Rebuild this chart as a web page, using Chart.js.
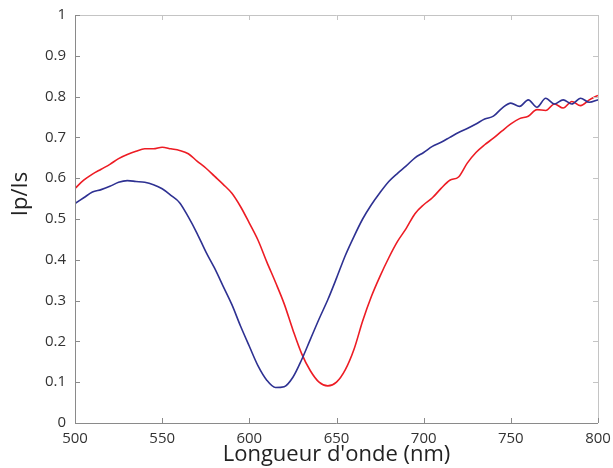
<!DOCTYPE html>
<html>
<head>
<meta charset="utf-8">
<script src="https://cdn.jsdelivr.net/npm/chart.js@4/dist/chart.umd.min.js"></script>
<style>
  html, body { margin: 0; padding: 0; background: #fff; }
  #wrap { width: 613px; height: 468px; }
</style>
</head>
<body>
<div id="wrap"><canvas id="chart" width="613" height="468"></canvas></div>
<script>
// wavelength grid (nm)
const wavelengths = [
  500, 505, 510, 515, 520, 525, 530, 535, 540, 545,
  550, 555, 560, 565, 570, 575, 580, 585, 590, 595,
  600, 605, 610, 615, 620, 625, 630, 635, 640, 645,
  650, 655, 660, 665, 670, 675, 680, 685, 690, 695,
  700, 705, 710, 715, 720, 725, 730, 735, 740, 745,
  750, 755, 760, 765, 770, 775, 780, 785, 790, 795, 800
];

// blue curve
const blueValues = [
  0.538, 0.552, 0.566, 0.572, 0.580, 0.590, 0.594, 0.592, 0.590, 0.584,
  0.574, 0.558, 0.540, 0.505, 0.465, 0.420, 0.380, 0.335, 0.290, 0.237,
  0.188, 0.140, 0.105, 0.087, 0.089, 0.112, 0.155, 0.205, 0.255, 0.302,
  0.355, 0.410, 0.457, 0.500, 0.535, 0.565, 0.592, 0.612, 0.630, 0.650,
  0.663, 0.678, 0.688, 0.700, 0.712, 0.722, 0.733, 0.745, 0.752, 0.772,
  0.784, 0.776, 0.792, 0.774, 0.796, 0.782, 0.792, 0.782, 0.796, 0.786, 0.792
];

// red curve
const redValues = [
  0.575, 0.595, 0.610, 0.622, 0.634, 0.648, 0.658, 0.666, 0.672, 0.672,
  0.676, 0.672, 0.668, 0.660, 0.642, 0.625, 0.605, 0.585, 0.563, 0.530,
  0.490, 0.448, 0.395, 0.345, 0.292, 0.228, 0.170, 0.128, 0.100, 0.091,
  0.100, 0.130, 0.180, 0.250, 0.310, 0.360, 0.405, 0.445, 0.477, 0.513,
  0.535, 0.552, 0.575, 0.595, 0.603, 0.637, 0.663, 0.682, 0.698, 0.716,
  0.733, 0.746, 0.752, 0.768, 0.766, 0.782, 0.772, 0.788, 0.778, 0.792, 0.803
];

const xTicks = [500, 550, 600, 650, 700, 750, 800];
const yTicks = [0, 0.1, 0.2, 0.3, 0.4, 0.5, 0.6, 0.7, 0.8, 0.9, 1];

const toPoints = (vals) => vals.map((v, i) => ({ x: wavelengths[i], y: v }));

// frame with inward ticks + axis titles
const framePlugin = {
    id: 'frame',
    afterDraw(chart) {
        const { ctx, chartArea: a, scales } = chart;
        const len = 5;
        ctx.save();
        ctx.lineWidth = 1;

        // top and right, light gray
        ctx.strokeStyle = '#c4c4c4';
        ctx.beginPath();
        ctx.moveTo(a.left, a.top + 0.5);
        ctx.lineTo(a.right + 0.5, a.top + 0.5);
        ctx.lineTo(a.right + 0.5, a.bottom);
        xTicks.forEach(v => {
            const px = Math.round(scales.x.getPixelForValue(v)) + 0.5;
            ctx.moveTo(px, a.top);
            ctx.lineTo(px, a.top + len);
        });
        yTicks.forEach(v => {
            const py = Math.round(scales.y.getPixelForValue(v)) + 0.5;
            ctx.moveTo(a.right, py);
            ctx.lineTo(a.right - len, py);
        });
        ctx.stroke();

        // left and bottom, darker gray
        ctx.strokeStyle = '#8a8a8a';
        ctx.beginPath();
        ctx.moveTo(a.left + 0.5, a.top);
        ctx.lineTo(a.left + 0.5, a.bottom + 0.5);
        ctx.lineTo(a.right, a.bottom + 0.5);
        xTicks.forEach(v => {
            const px = Math.round(scales.x.getPixelForValue(v)) + 0.5;
            ctx.moveTo(px, a.bottom);
            ctx.lineTo(px, a.bottom - len);
        });
        yTicks.forEach(v => {
            const py = Math.round(scales.y.getPixelForValue(v)) + 0.5;
            ctx.moveTo(a.left, py);
            ctx.lineTo(a.left + len, py);
        });
        ctx.stroke();

        // axis titles
        ctx.fillStyle = '#222';
        ctx.font = '22px "Open Sans", sans-serif';
        ctx.textAlign = 'center';
        ctx.textBaseline = 'middle';
        ctx.fillText("Longueur d'onde (nm)", (a.left + a.right) / 2, 455);
        ctx.translate(21, 194);
        ctx.rotate(-Math.PI / 2);
        ctx.fillText('Ip/Is', 0, 0);
        ctx.restore();
    }
};

new Chart(document.getElementById('chart'), {
    type: 'line',
    data: {
        datasets: [
            {
                label: 'bleu',
                data: toPoints(blueValues),
                borderColor: '#2e3192',
                borderWidth: 1.6,
                pointRadius: 0,
                cubicInterpolationMode: 'monotone'
            },
            {
                label: 'rouge',
                data: toPoints(redValues),
                borderColor: '#ed1c24',
                borderWidth: 1.6,
                pointRadius: 0,
                cubicInterpolationMode: 'monotone'
            }
        ]
    },
    options: {
        responsive: false,
        animation: false,
        layout: { padding: { top: 15, right: 15, left: 0, bottom: 0 } },
        plugins: {
            legend: { display: false },
            tooltip: { enabled: false }
        },
        scales: {
            x: {
                type: 'linear',
                min: 500,
                max: 800,
                afterFit: (s) => {
                    s.height = 45;
                    s.paddingLeft = 0;
                    s.paddingRight = 0;
                },
                afterBuildTicks: (s) => { s.ticks = xTicks.map(v => ({ value: v })); },
                grid: { display: false, drawTicks: false },
                border: { display: false },
                ticks: {
                    color: '#333',
                    font: { family: '"Open Sans", sans-serif', size: 15 },
                    padding: 7,
                    maxRotation: 0
                }
            },
            y: {
                min: 0,
                max: 1,
                afterFit: (s) => {
                    s.width = 75;
                    s.paddingTop = 0;
                    s.paddingBottom = 0;
                },
                afterBuildTicks: (s) => { s.ticks = yTicks.map(v => ({ value: v })); },
                grid: { display: false, drawTicks: false },
                border: { display: false },
                ticks: {
                    color: '#333',
                    font: { family: '"Open Sans", sans-serif', size: 15 },
                    padding: 9,
                    callback: (v) => String(Math.round(v * 10) / 10)
                }
            }
        }
    },
    plugins: [framePlugin]
});
</script>
</body>
</html>
